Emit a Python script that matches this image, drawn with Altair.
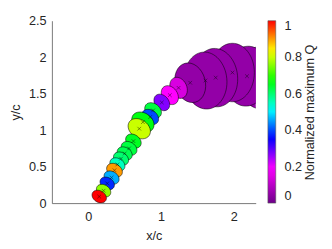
import altair as alt
import pandas as pd

# centres of the vortex ellipses (x/c, y/c)
x_c = [0.15, 0.21, 0.26, 0.32, 0.36, 0.40, 0.45, 0.50, 0.56, 0.62, 0.70, 0.75,
       0.85, 0.89, 1.01, 1.12, 1.24, 1.40, 1.61, 1.75, 1.98, 2.18, 2.38]
y_c = [0.09, 0.17, 0.27, 0.35, 0.45, 0.53, 0.61, 0.68, 0.75, 0.85, 1.02, 1.11,
       1.18, 1.27, 1.38, 1.48, 1.58, 1.65, 1.68, 1.72, 1.79, 1.74, 1.72]
# major axis length of each ellipse (in c)
major = [0.21, 0.21, 0.21, 0.22, 0.23, 0.22, 0.22, 0.22, 0.23, 0.23, 0.33, 0.33,
         0.25, 0.25, 0.25, 0.28, 0.30, 0.55, 0.78, 0.80, 0.80, 0.82, 0.86]
# orientation of the major axis (deg, clockwise from vertical)
orient = [302, 302, 302, 302, 302, 302, 302, 302, 302, 305, 305, 305,
          305, 308, 320, 325, 335, 345, 355, 355, 0, 5, 0]
# normalized maximum Q
q_norm = [1.00, 0.76, 0.38, 0.46, 0.90, 0.55, 0.60, 0.62, 0.63, 0.65, 0.80, 0.66,
          0.40, 0.63, 0.27, 0.19, 0.14, 0.05, 0.05, 0.05, 0.05, 0.05, 0.05]

cmap_stops = [0, 0.19, 0.355, 0.51, 0.67, 0.835, 1]
cmap_colors = ["#6c0088", "#ff00ff", "#0000ff", "#00ffff", "#00ff00", "#ffff00", "#ff0000"]
cbar_ticks = [0, 0.2, 0.4, 0.6, 0.8, 1]
x_ticks = [0, 1, 2]
y_ticks = [0, 0.5, 1, 1.5, 2, 2.5]

df = pd.DataFrame({"x": x_c, "y": y_c, "major": major, "angle": orient,
                   "q": q_norm, "idx": list(range(len(x_c)))})

FONT = "Liberation Sans"
TXT = "#262626"

ellipse = "M0,-1A0.75,1 0 1,1 0,1A0.75,1 0 1,1 0,-1Z"
cross = "M-1,-1L1,1M-1,1L1,-1"

xs = alt.X("x:Q", scale=alt.Scale(domain=[-0.5, 2.3], nice=False, zero=False),
           axis=alt.Axis(title="x/c", values=x_ticks, format="~g", grid=False,
                         tickSize=0, labelPadding=8, titlePadding=6,
                         labelOverlap=False))
ys = alt.Y("y:Q", scale=alt.Scale(domain=[0, 2.5], nice=False),
           axis=alt.Axis(title="y/c", values=y_ticks, format="~g",
                         grid=False, tickSize=0, labelPadding=6, titlePadding=6,
                         labelOverlap=False))

ell = alt.Chart(df).mark_point(shape=ellipse, filled=True, opacity=1,
                               stroke="black", strokeWidth=0.5, clip=True).encode(
    x=xs, y=ys,
    size=alt.Size("major:Q", scale=alt.Scale(type="pow", exponent=2, domain=[0, 1],
                                             range=[0, 5625]), legend=None),
    angle=alt.Angle("angle:Q", scale=None),
    fill=alt.Fill("q:Q", scale=alt.Scale(domain=cmap_stops, range=cmap_colors,
                                         interpolate="rgb"),
                  legend=alt.Legend(title=None, orient="none", legendX=221.5, legendY=0,
                                    direction="vertical", gradientLength=187,
                                    gradientThickness=8, values=cbar_ticks,
                                    format="~g",
                                    labelFontSize=13, labelFont=FONT, labelColor=TXT,
                                    labelOffset=9, labelBaseline="middle",
                                    gradientStrokeColor="#555555",
                                    gradientStrokeWidth=0.6)),
    order=alt.Order("idx:Q", sort="descending"),
)

marks = alt.Chart(df).mark_point(shape=cross, size=14, stroke="black",
                                 strokeWidth=0.6, clip=True).encode(
    x=xs, y=ys, order=alt.Order("idx:Q", sort="descending"))

cb_title = alt.Chart(pd.DataFrame({"t": ["Normalized maximum Q"]})).mark_text(
    angle=270, fontSize=13, font=FONT, color=TXT, align="center", baseline="middle"
).encode(x=alt.value(265), y=alt.value(94), text="t:N")

chart = alt.layer(ell, marks, cb_title).properties(
    width=209, height=187,
    padding={"left": 45, "top": 10, "right": 70, "bottom": 44},
    autosize=alt.AutoSizeParams(type="none"),
).configure_view(stroke=None).configure_axis(
    labelFont=FONT, titleFont=FONT, labelFontSize=13, titleFontSize=13,
    labelColor=TXT, titleColor=TXT, titleFontWeight="normal",
    domainColor="#555555", domainWidth=0.8,
)

chart.save("out.html", embed_options={"renderer": "svg", "actions": False})
